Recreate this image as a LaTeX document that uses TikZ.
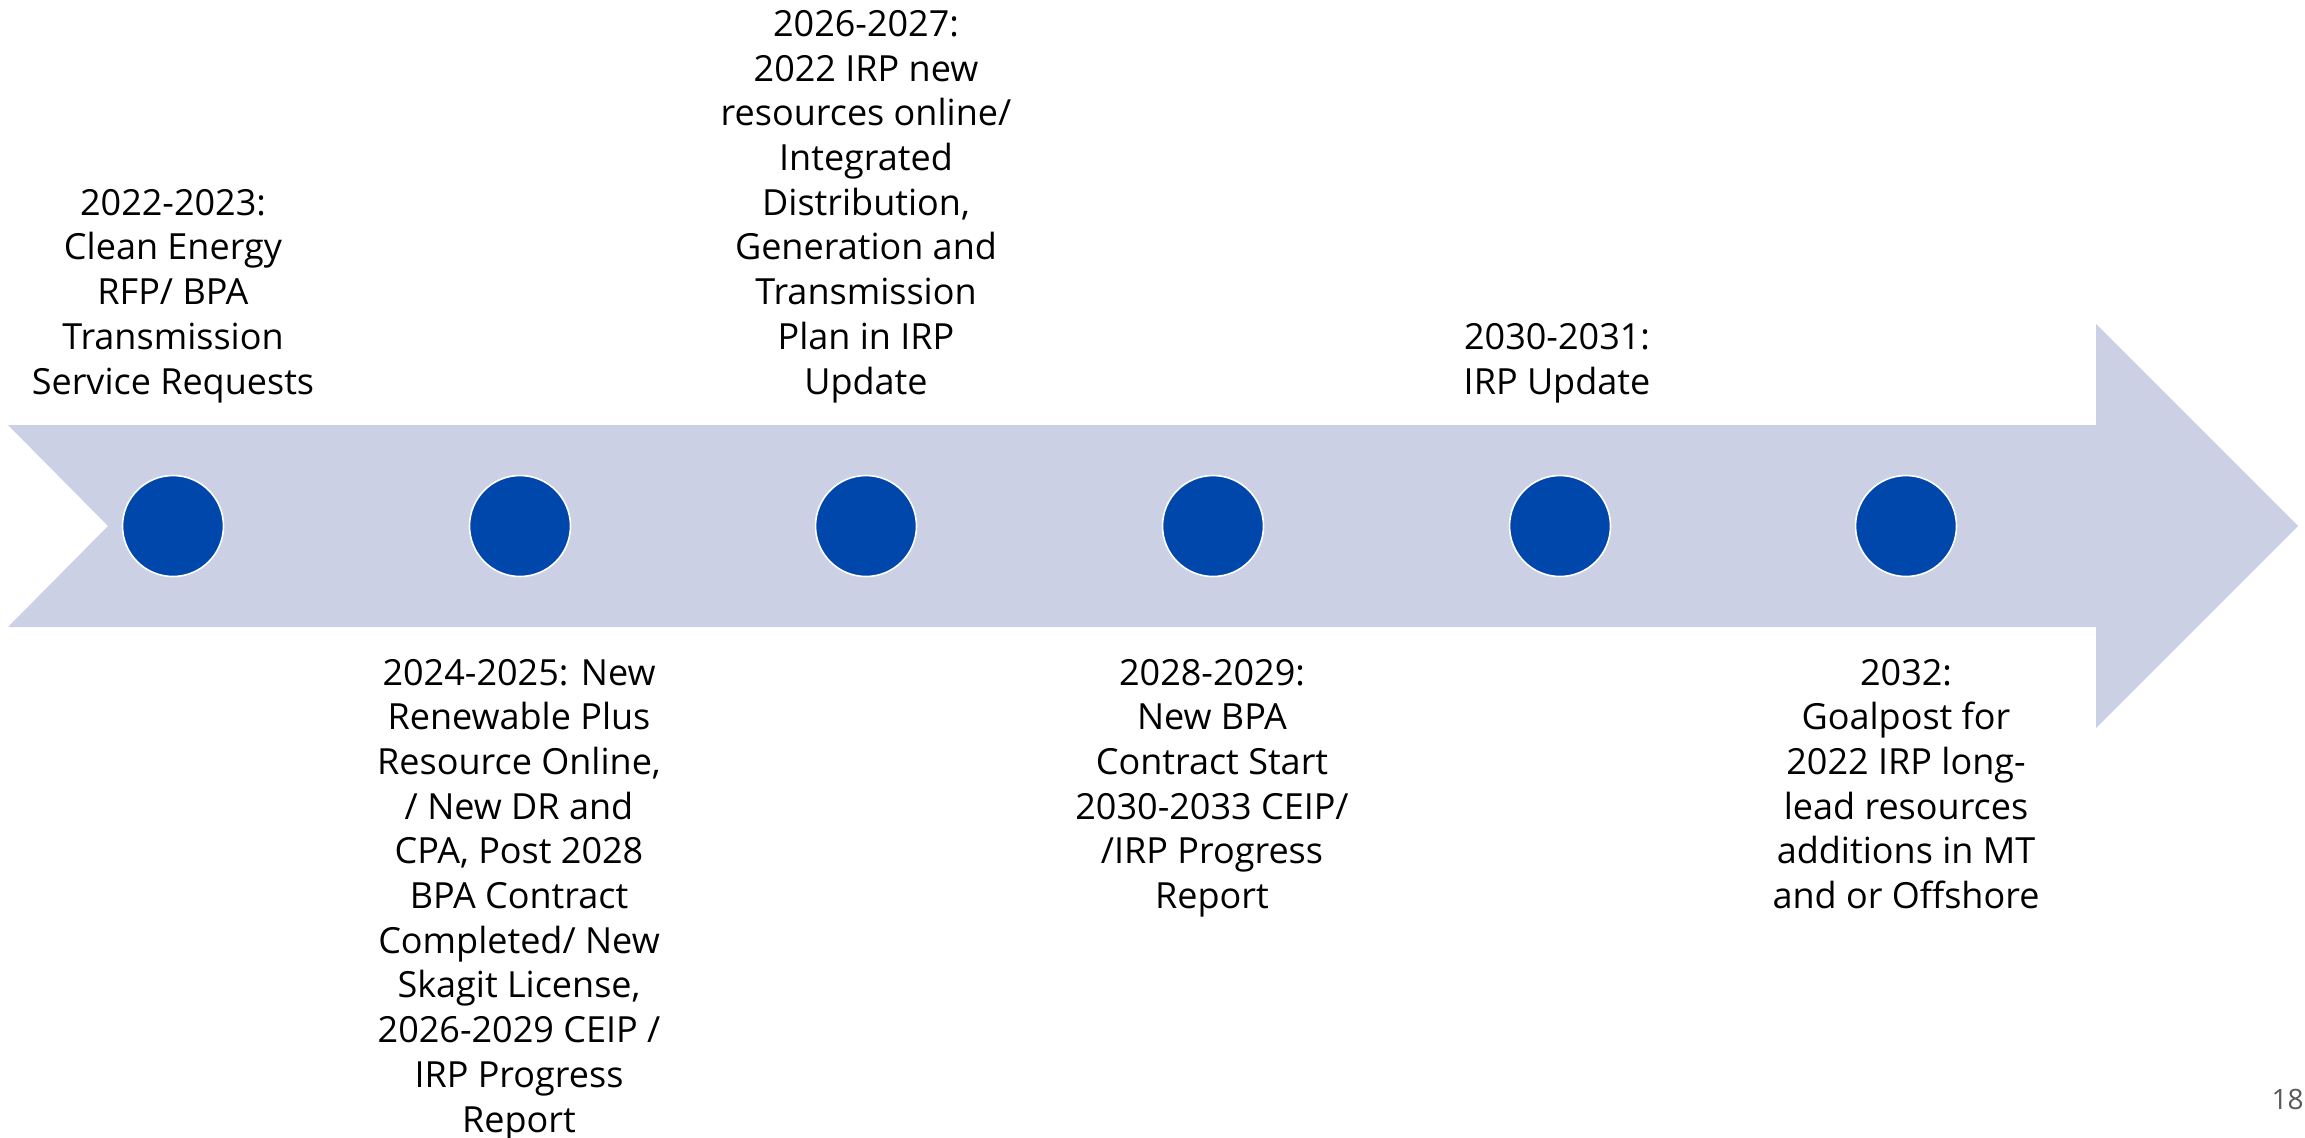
\documentclass[tikz,border=0pt]{standalone}
\usepackage{fontspec}
\setmainfont{Open Sans}
\definecolor{arrowfill}{RGB}{203,208,228}
\definecolor{dotblue}{RGB}{0,71,171}
\definecolor{pagegrey}{RGB}{89,89,89}
\tikzset{
  milestone/.style={circle, fill=dotblue, draw=white, line width=0.8pt, minimum size=50.5pt, inner sep=0pt},
  label/.style={align=center, inner sep=0pt, font=\fontsize{18pt}{22.35pt}\selectfont, text=black},
}
\begin{document}
\begin{tikzpicture}[x=0.5pt,y=-0.5pt]
\useasboundingbox (0,0) rectangle (2305,1137);
\fill[arrowfill] (8,425) -- (2096,425) -- (2096,324) -- (2298,526) -- (2096,728) -- (2096,627) -- (8,627) -- (108,526) -- cycle;
\node[milestone] (m1) at (173,526) {};
\node[milestone] (m2) at (520,526) {};
\node[milestone] (m3) at (866,526) {};
\node[milestone] (m4) at (1213,526) {};
\node[milestone] (m5) at (1560,526) {};
\node[milestone] (m6) at (1906,526) {};
\node[label, anchor=base] (t1) at (173,394) {2022-2023:\\Clean Energy\\RFP/ BPA\\Transmission\\Service Requests};
\node[label, anchor=base] (t3) at (866,394) {2026-2027:\\2022 IRP new\\resources online/\\Integrated\\Distribution,\\Generation and\\Transmission\\Plan in IRP\\Update};
\node[label, anchor=base] (t5) at (1557,394) {2030-2031:\\IRP Update};
\node[label, anchor=base] (t2) at (519,1132) {2024-2025: New\\Renewable Plus\\Resource Online,\\/ New DR and\\CPA, Post 2028\\BPA Contract\\Completed/ New\\Skagit License,\\2026-2029 CEIP /\\IRP Progress\\Report};
\node[label, anchor=base] (t4) at (1212,908.5) {2028-2029:\\New BPA\\Contract Start\\2030-2033 CEIP/\\/IRP Progress\\Report};
\node[label, anchor=base] (t6) at (1906,908.5) {2032:\\Goalpost for\\2022 IRP long-\\lead resources\\additions in MT\\and or Offshore};
\node[anchor=base east, inner sep=0pt, font=\fontsize{14pt}{16pt}\selectfont, text=pagegrey] (pg) at (2304,1109) {18};
\end{tikzpicture}
\end{document}
